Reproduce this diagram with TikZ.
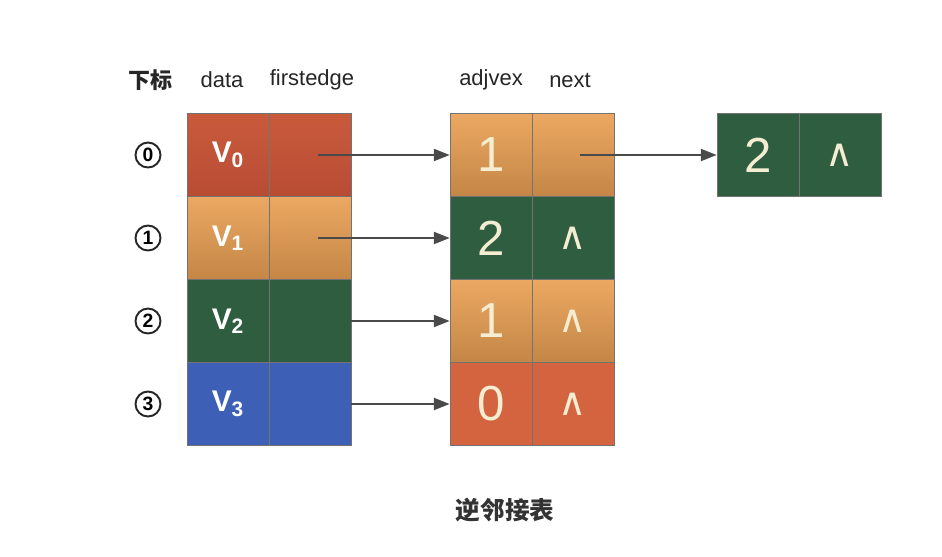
\documentclass[tikz,border=0pt]{standalone}
\usepackage{fontspec}
\setmainfont{Liberation Sans}
\newfontfamily\cjk{Noto Sans CJK SC}
\newfontfamily\djv{DejaVu Sans}
\usetikzlibrary{arrows.meta,calc}
\definecolor{cred}{HTML}{C95A3C}
\definecolor{credd}{HTML}{B84C33}
\definecolor{corange}{HTML}{EBA862}
\definecolor{corangd}{HTML}{C48646}
\definecolor{cgreen}{HTML}{2F5D40}
\definecolor{cblue}{HTML}{3D5FB6}
\definecolor{cmred}{HTML}{D3643F}
\definecolor{ctxt}{HTML}{F4EDD2}
\definecolor{carrow}{HTML}{4A4A4A}
\tikzset{
  cell/.style={minimum width=1.64cm, minimum height=1.66cm, inner sep=0pt, draw=black!55, line width=0.5pt},
  redcell/.style={cell, top color=cred, bottom color=credd},
  orcell/.style={cell, top color=corange, bottom color=corangd},
  grcell/.style={cell, fill=cgreen},
  blcell/.style={cell, fill=cblue},
  mrcell/.style={cell, fill=cmred},
  vlab/.style={text=white, font=\bfseries\fontsize{17}{17}\selectfont},
  numlab/.style={text=ctxt, font=\fontsize{28}{28}\selectfont},
  caretlab/.style={text=ctxt, font=\djv\fontsize{22}{22}\selectfont},
  head/.style={text=black!85, font=\fontsize{12.5}{12.5}\selectfont},
  idx/.style={circle, draw=black!85, line width=1.1pt, minimum size=0.5cm, inner sep=0pt, font=\bfseries\fontsize{11}{11}\selectfont},
  link/.style={draw=carrow, line width=0.7pt, -{Triangle[length=9pt,width=7pt]}},
}
\begin{document}
\begin{tikzpicture}[x=0.02cm,y=-0.02cm]
\useasboundingbox[fill=white] (0,0) rectangle (942,556);
% headers
\node[head] (hidx) at (150,80) {\cjk\bfseries 下标};
\node[head] (hdata) at (222,80) {data};
\node[head] (hfirst) at (312,80) {firstedge};
\node[head] (hadj) at (491,80) {adjvex};
\node[head] (hnext) at (570,80) {next};
% index circles
\node[idx] (i0) at (148,155) {0};
\node[idx] (i1) at (148,238) {1};
\node[idx] (i2) at (148,321) {2};
\node[idx] (i3) at (148,404) {3};
% vertex table
\node[redcell] (d0) at (228,155) {};
\node[redcell] (f0) at (310,155) {};
\node[orcell] (d1) at (228,238) {};
\node[orcell] (f1) at (310,238) {};
\node[grcell] (d2) at (228,321) {};
\node[grcell] (f2) at (310,321) {};
\node[blcell] (d3) at (228,404) {};
\node[blcell] (f3) at (310,404) {};
\node[vlab] (v0) at (d0) {V\textsubscript{0}};
\node[vlab] (v1) at (d1) {V\textsubscript{1}};
\node[vlab] (v2) at (d2) {V\textsubscript{2}};
\node[vlab] (v3) at (d3) {V\textsubscript{3}};
% edge table
\node[orcell] (a0) at (491,155) {};
\node[orcell] (n0) at (573,155) {};
\node[grcell] (a1) at (491,238) {};
\node[grcell] (n1) at (573,238) {};
\node[orcell] (a2) at (491,321) {};
\node[orcell] (n2) at (573,321) {};
\node[mrcell] (a3) at (491,404) {};
\node[mrcell] (n3) at (573,404) {};
\node[numlab] at (a0) {1};
\node[numlab] at (a1) {2};
\node[numlab] at (a2) {1};
\node[numlab] at (a3) {0};
\node[caretlab] at (n1) {∧};
\node[caretlab] at (n2) {∧};
\node[caretlab] at (n3) {∧};
% extra edge node
\node[grcell] (b0) at (758,155) {};
\node[grcell] (m0) at (840,155) {};
\node[numlab] at (b0) {2};
\node[caretlab] at (m0) {∧};
% links
\coordinate (s0) at ($(f0.center)+(8,0)$);
\coordinate (s1) at ($(f1.center)+(8,0)$);
\coordinate (s4) at ($(n0.center)+(7,0)$);
\draw[link] (s0) -- (a0.west);
\draw[link] (s1) -- (a1.west);
\draw[link] (f2.east) -- (a2.west);
\draw[link] (f3.east) -- (a3.west);
\draw[link] (s4) -- (b0.west);
% caption
\node[text=black!80, font=\cjk\bfseries\fontsize{14}{14}\selectfont] (cap) at (505,510) {逆邻接表};
\end{tikzpicture}
\end{document}
